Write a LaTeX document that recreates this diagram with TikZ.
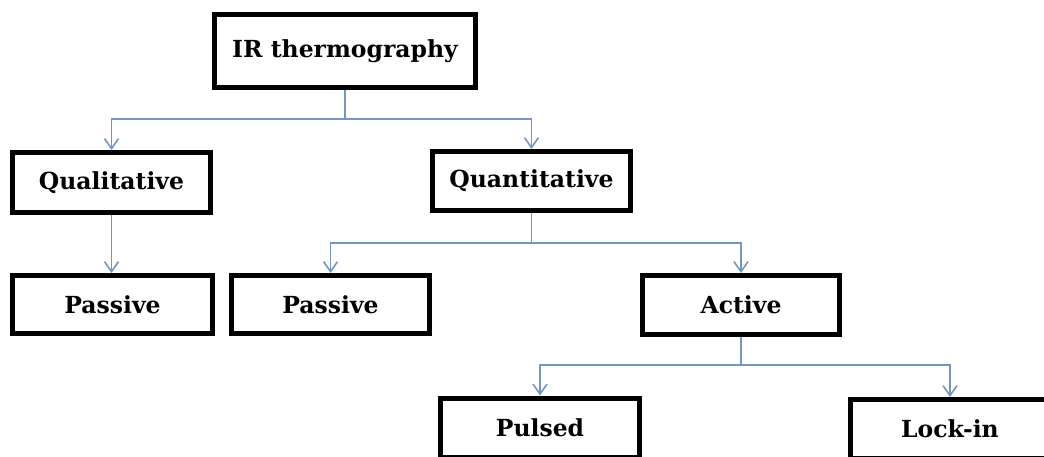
\documentclass[tikz,border=0pt]{standalone}
\usepackage{fontspec}
\setmainfont{DejaVu Serif}
\usetikzlibrary{arrows.meta}
\definecolor{linkblue}{RGB}{115,150,196}
\tikzset{
  box/.style={draw=black, line width=5pt, fill=white, inner sep=0pt,
    font=\fontsize{23.5}{28}\selectfont\bfseries, text=black},
  link/.style={draw=linkblue, line width=1.8pt},
  arr/.style={link, -{Straight Barb[length=10pt,width=14pt,line width=1.6pt]}}
}
\begin{document}
\begin{tikzpicture}[x=1pt,y=-1pt]
\clip (0,0) rectangle (1044,457);
\fill[white] (0,0) rectangle (1044,457);
\node[box, minimum width=261, minimum height=73] (ir) at (345,51) {IR thermography};
\node[box, minimum width=198, minimum height=60] (qual) at (111.5,182.5) {Qualitative};
\node[box, minimum width=198, minimum height=59] (quant) at (531.5,181) {Quantitative};
\node[box, minimum width=200, minimum height=58] (pasL) at (112.5,304.5) {Passive};
\node[box, minimum width=198, minimum height=58] (pasM) at (330.5,304.5) {Passive};
\node[box, minimum width=197, minimum height=59] (act) at (741,305) {Active};
\node[box, minimum width=199, minimum height=59] (pul) at (540,427.5) {Pulsed};
\node[box, minimum width=199, minimum height=59] (lock) at (950,429) {Lock-in};
\coordinate (j1) at (345,119);
\coordinate (j2) at (531.5,243);
\coordinate (j3) at (741,365);
\draw[link] (ir.south) -- (j1);
\draw[arr] (j1) -| (qual.north);
\draw[arr] (j1) -| (quant.north);
\draw[arr] (qual.south) -- (pasL.north -| qual.south);
\draw[link] (quant.south) -- (j2);
\draw[arr] (j2) -| (pasM.north);
\draw[arr] (j2) -| (act.north);
\draw[link] (act.south) -- (j3);
\draw[arr] (j3) -| (pul.north);
\draw[arr] (j3) -| (lock.north);
\end{tikzpicture}
\end{document}
